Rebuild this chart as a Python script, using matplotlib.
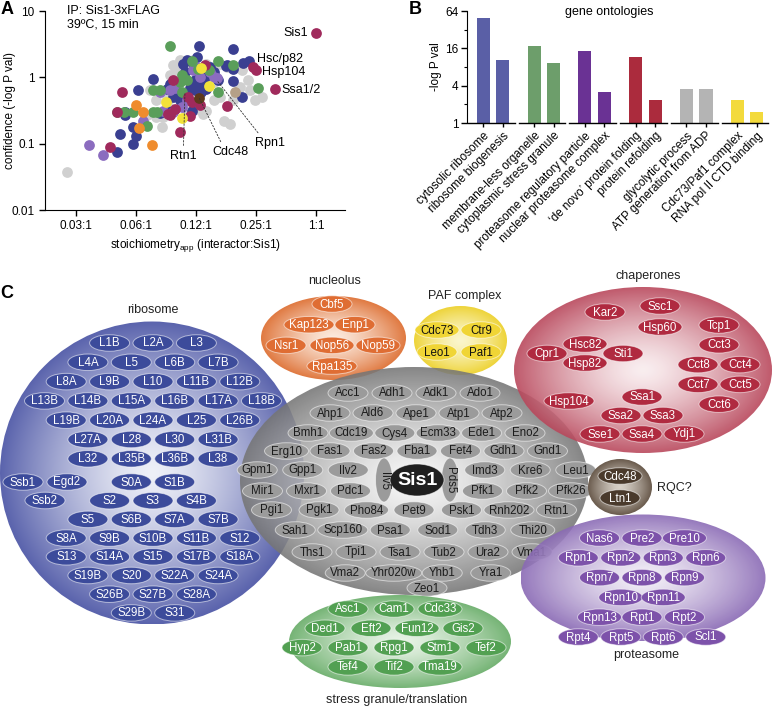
import numpy as np
import matplotlib.pyplot as plt
from matplotlib.patches import Ellipse
from matplotlib.colors import to_rgb

plt.rcParams['font.family'] = ['Liberation Sans', 'DejaVu Sans']
plt.rcParams['mathtext.fontset'] = 'custom'
plt.rcParams['mathtext.rm'] = 'Liberation Sans'
plt.rcParams['font.size'] = 8.5

# ---------------- panel A data (stoichiometry vs -log P) ----------------
sis1_ratio, sis1_conf = [0.5], [4.7]

ribo_ratio = [0.130, 0.192, 0.112, 0.126, 0.107, 0.122, 0.231, 0.216, 0.177, 0.192,
              0.147, 0.153, 0.110, 0.131, 0.140, 0.0757, 0.124, 0.136, 0.192, 0.0642,
              0.0891, 0.0961, 0.117, 0.124, 0.133, 0.141, 0.212, 0.055, 0.0606, 0.0519,
              0.0625, 0.0601, 0.0503, 0.104, 0.0907, 0.0825, 0.119, 0.112, 0.0961, 0.131,
              0.0925, 0.055, 0.162, 0.178]
ribo_conf = [2.95, 2.66, 1.85, 2.03, 1.61, 1.52, 1.77, 1.65, 1.49, 1.35,
             1.43, 1.20, 1.20, 1.20, 1.04, 0.93, 0.90, 0.88, 0.88, 0.65,
             0.67, 0.65, 0.70, 0.64, 0.60, 0.67, 0.50, 0.30, 0.181, 0.14,
             0.129, 0.099, 0.076, 0.45, 0.316, 0.29, 0.316, 0.57, 0.50, 0.80,
             0.80, 0.266, 0.90, 1.52]

chap_ratio = [0.242, 0.249, 0.311, 0.0531, 0.050, 0.0461, 0.104, 0.117, 0.139, 0.0961,
              0.0907, 0.098, 0.114, 0.119, 0.131, 0.178, 0.0925]
chap_conf = [1.43, 1.28, 0.67, 0.60, 0.30, 0.088, 0.152, 0.26, 1.52, 0.90,
             0.28, 0.335, 0.50, 0.42, 0.38, 0.37, 0.266]

sg_ratio = [0.0925, 0.119, 0.162, 0.192, 0.106, 0.112, 0.104, 0.0757, 0.0825, 0.106,
            0.162, 0.255, 0.0503, 0.0544, 0.0606, 0.0707, 0.0763, 0.0792, 0.128, 0.145]
sg_conf = [2.98, 1.75, 1.75, 1.52, 1.07, 0.90, 0.85, 0.65, 0.65, 0.60,
           0.61, 0.69, 0.305, 0.305, 0.305, 0.187, 0.305, 0.30, 1.35, 1.28]

nuc_ratio = [0.0625, 0.068, 0.065, 0.0749]
nuc_conf = [0.38, 0.305, 0.171, 0.095]

prot_ratio = [0.0365, 0.0427, 0.068, 0.0857, 0.0925, 0.098, 0.0825, 0.121, 0.126, 0.131,
              0.153, 0.147, 0.112, 0.159, 0.0961, 0.106]
prot_conf = [0.097, 0.067, 0.218, 0.316, 0.64, 0.70, 0.60, 1.28, 1.43, 1.01,
             1.01, 1.20, 0.45, 0.99, 0.305, 0.36]

paf_ratio = [0.133, 0.146, 0.0884, 0.106]
paf_conf = [1.38, 0.73, 0.43, 0.242]

rqc_ratio, rqc_conf = [0.130], [0.48]
misc_ratio, misc_conf = [0.195], [0.60]

other_ratio = [0.028, 0.084, 0.071, 0.079, 0.091, 0.096, 0.104, 0.112, 0.121, 0.141,
               0.153, 0.165, 0.178, 0.212, 0.229, 0.233, 0.247, 0.267, 0.192, 0.136,
               0.141, 0.128, 0.172, 0.185, 0.0925, 0.079, 0.0735, 0.112, 0.121, 0.0857,
               0.099, 0.153, 0.208, 0.089, 0.165]
other_conf = [0.037, 0.177, 0.266, 0.25, 0.36, 1.52, 1.81, 1.28, 1.81, 1.61,
              0.85, 1.61, 1.43, 1.28, 0.92, 0.64, 0.46, 0.50, 0.45, 0.28,
              0.316, 0.335, 0.223, 0.199, 1.07, 0.45, 0.64, 0.316, 0.36, 0.25,
              1.28, 0.45, 0.71, 0.50, 0.50]

x_ticks = [1/32, 1/16, 1/8, 1/4, 1/2]
x_ticklabels = ['0.03:1', '0.06:1', '0.12:1', '0.25:1', '1:1']

# ---------------- panel B data (GO enrichment) ----------------
go_terms = ['cytosolic ribosome', 'ribosome biogenesis',
            'membrane-less organelle', 'cytoplasmic stress granule',
            'proteasome regulatory particle', 'nuclear proteasome complex',
            '\u2018de novo\u2019 protein folding', 'protein refolding',
            'glycolytic process', 'ATP generation from ADP',
            'Cdc73/Paf1 complex', 'RNA pol II CTD binding']
go_logp = [50, 10.3, 17.4, 9.3, 14.5, 3.2, 11.7, 2.35, 3.55, 3.55, 2.35, 1.53]
go_colors = ['#5a5fa6', '#5a5fa6', '#6d9e6b', '#6d9e6b', '#6a3294', '#6a3294',
             '#ab2b3d', '#ab2b3d', '#b4b4b4', '#b4b4b4', '#f3da3c', '#f3da3c']

# ---------------- panel C data (interactor groups) ----------------
ribo_large = [['L1B', 'L2A', 'L3'], ['L4A', 'L5', 'L6B', 'L7B'],
              ['L8A', 'L9B', 'L10', 'L11B', 'L12B'],
              ['L13B', 'L14B', 'L15A', 'L16B', 'L17A', 'L18B'],
              ['L19B', 'L20A', 'L24A', 'L25', 'L26B'],
              ['L27A', 'L28', 'L30', 'L31B'], ['L32', 'L35B', 'L36B', 'L38']]
ribo_small = [['S0A', 'S1B'], ['S2', 'S3', 'S4B'], ['S5', 'S6B', 'S7A', 'S7B'],
              ['S8A', 'S9B', 'S10B', 'S11B', 'S12'],
              ['S13', 'S14A', 'S15', 'S17B', 'S18A'],
              ['S19B', 'S20', 'S22A', 'S24A'], ['S26B', 'S27B', 'S28A'], ['S29B', 'S31']]
ribo_assoc = [['Ssb1', 'Egd2'], ['Ssb2']]
nucleolus = [['Cbf5'], ['Kap123', 'Enp1'], ['Nsr1', 'Nop56', 'Nop59'], ['Rpa135']]
paf = [['Cdc73', 'Ctr9'], ['Leo1', 'Paf1']]
cct = [['Tcp1'], ['Cct3'], ['Cct8', 'Cct4'], ['Cct7', 'Cct5'], ['Cct6']]
hsp70 = [['Ssa1'], ['Ssa2', 'Ssa3'], ['Sse1', 'Ssa4', 'Ydj1']]
hsp90 = [['Hsc82'], ['Cpr1', 'Sti1'], ['Hsp82']]
mito = [['Ssc1'], ['Hsp60']]
other_rows = [['Acc1', 'Adh1', 'Adk1', 'Ado1'],
              ['Ahp1', 'Ald6', 'Ape1', 'Atp1', 'Atp2'],
              ['Bmh1', 'Cdc19', 'Cys4', 'Ecm33', 'Ede1', 'Eno2'],
              ['Erg10', 'Fas1', 'Fas2', 'Fba1', 'Fet4', 'Gdh1', 'Gnd1'],
              ['Gpm1', 'Gpp1', 'Ilv2', None, None, 'Imd3', 'Kre6', 'Leu1'],
              ['Mir1', 'Mxr1', 'Pdc1', None, None, 'Pfk1', 'Pfk2', 'Pfk26'],
              ['Pgi1', 'Pgk1', 'Pho84', 'Pet9', 'Psk1', 'Rnh202', 'Rtn1'],
              ['Sah1', 'Scp160', 'Psa1', 'Sod1', 'Tdh3', 'Thi20'],
              ['Ths1', 'Tpi1', 'Tsa1', 'Tub2', 'Ura2', 'Vma1'],
              ['Vma2', 'Yhr020w', 'Yhb1', 'Yra1'], ['Zeo1']]
stress = [['Asc1', 'Cam1', 'Cdc33'], ['Ded1', 'Eft2', 'Fun12', 'Gis2'],
          ['Hyp2', 'Pab1', 'Rpg1', 'Stm1', 'Tef2'], ['Tef4', 'Tif2', 'Tma19']]
proteasome = [['Nas6', 'Pre2', 'Pre10'], ['Rpn1', 'Rpn2', 'Rpn3', 'Rpn6'],
              ['Rpn7', 'Rpn8', 'Rpn9'], ['Rpn10', 'Rpn11'],
              ['Rpn13', 'Rpt1', 'Rpt2'], ['Rpt4', 'Rpt5', 'Rpt6', 'Scl1']]
rqc = [['Cdc48'], ['Ltn1']]

fig = plt.figure(figsize=(7.72, 7.07), dpi=100)

# Panel C lives on a pixel-space axes spanning the whole figure.
axc = fig.add_axes([0, 0, 1, 1])
axc.axis('off')


def blob(cx, cy, w, h, edge, center, z, alpha=1.0, power=1.4):
    shape = Ellipse((cx, cy), w, h, facecolor='none', edgecolor='none', zorder=z)
    axc.add_patch(shape)
    yy, xx = np.mgrid[-1:1:200j, -1:1:200j]
    t = np.clip(np.hypot(xx, yy), 0, 1) ** power
    c0, c1 = np.array(to_rgb(center)), np.array(to_rgb(edge))
    img = c0 * (1 - t[..., None]) + c1 * t[..., None]
    im = axc.imshow(img, extent=(cx - w / 2, cx + w / 2, cy + h / 2, cy - h / 2),
                    zorder=z, alpha=alpha, aspect='auto', interpolation='bilinear')
    im.set_clip_path(shape)


def chip(x, y, name, face, txt='white', z=2, w=None, h=16.5, rot=0, fs=8.3, weight='normal'):
    if w is None:
        w = max(40, 6 * len(name) + 14)
    axc.add_patch(Ellipse((x, y), w, h, facecolor=face, edgecolor=(1, 1, 1, 0.55),
                          lw=0.7, zorder=z))
    axc.text(x, y + 0.5, name, ha='center', va='center', color=txt, fontsize=fs,
             rotation=rot, zorder=z + 0.1, weight=weight)


def cluster(rows, cx, y0, dx, dy, face, txt='white', z=2):
    for i, row in enumerate(rows):
        n = len(row)
        for j, name in enumerate(row):
            if name:
                chip(cx + (j - (n - 1) / 2) * dx, y0 + i * dy, name, face, txt, z)


# ribosome
blob(152, 473, 304, 303, '#5b64ad', '#eef0f8', 1)
cluster(ribo_large, 153, 343, 43.4, 19.3, '#3c4b9b')
cluster(ribo_small, 153, 482, 43.4, 18.7, '#3c4b9b')
cluster(ribo_assoc, 45, 482, 44, 18.5, '#3c4b9b')
# nucleolus
blob(333.5, 338, 145, 84, '#e07a42', '#fce9dc', 1)
cluster(nucleolus, 332, 304, 46, 20.7, '#df6d33')
# PAF complex
blob(460.5, 340.5, 93, 69, '#eed43a', '#fbf6cc', 1)
cluster(paf, 459, 330, 44, 22, '#f0d535', txt='#111111')
# unclassified interactors (gray)
blob(414, 481, 348, 228, '#767676', '#f6f6f6', 3, alpha=0.88)
gray_layout = [(393, 414, 44), (413, 416, 43), (433, 416.5, 43.4), (451, 417, 43.5),
               (470, 416.5, 45.5), (491, 416.5, 44), (510, 414, 47.5), (530, 414, 47.5),
               (552, 422, 44), (573, 418, 48.5), (588, 427, 0)]
for row, (y, cx, dx) in zip(other_rows, gray_layout):
    cluster([row], cx, y, dx, 0, '#9b9b9b', txt='#1c1c1c', z=4)
chip(384, 480, 'Ilv5', '#9b9b9b', txt='#1c1c1c', z=4, w=17, h=44, rot=-90)
chip(450, 480, 'Pds5', '#9b9b9b', txt='#1c1c1c', z=4, w=17, h=44, rot=-90)
chip(417, 480, 'Sis1', '#1f1f1f', z=4, w=54, h=32, fs=14, weight='bold')
# chaperones
blob(643, 370, 258, 166, '#b9485c', '#f9ecee', 5, alpha=0.9)
cluster(cct, 719, 325, 42, 19.8, '#b02a40', z=6)
cluster(hsp70, 642, 397, 42, 18.5, '#b02a40', z=6)
cluster(hsp90, 585, 344, 76, 9.5, '#b02a40', z=6)
cluster(mito, 660, 306, 0, 21, '#b02a40', z=6)
chip(605, 312, 'Kar2', '#b02a40', z=6)
chip(569, 401, 'Hsp104', '#b02a40', z=6)
# proteasome
blob(643, 578, 245, 127, '#8a6ab5', '#f1ecf6', 5, alpha=0.9)
cluster(proteasome, 642, 538, 42.5, 19.8, '#7d52aa', z=6)
# stress granule / translation
blob(400, 641.5, 222, 93, '#6aae6a', '#e7f3e5', 5, alpha=0.92)
cluster(stress, 394, 609, 46, 19.3, '#52a052', z=6)
# RQC
blob(620, 487, 64, 56, '#6a5b4d', '#d8d1c8', 5)
cluster(rqc, 620, 476, 0, 22, '#4a3a2c', z=6)

group_labels = [(153, 310, 'ribosome'), (335, 281, 'nucleolus'), (465, 296, 'PAF complex'),
                (648, 276, 'chaperones'), (646, 655, 'proteasome'),
                (397, 700, 'stress granule/translation')]
for x, y, s in group_labels:
    axc.text(x, y, s, ha='center', va='center', fontsize=9, color='#222222')
axc.text(657, 488, 'RQC?', ha='left', va='center', fontsize=9, color='#222222')

for x, y, s in [(7, 10, 'A'), (415, 10, 'B'), (7, 293, 'C')]:
    axc.text(x, y, s, ha='center', va='center', fontsize=13, weight='bold')

axc.set_xlim(0, 772)
axc.set_ylim(707, 0)

# ---------------- panel A ----------------
axA = fig.add_axes([45 / 772, 1 - 210 / 707, 300 / 772, 199 / 707])
axA.patch.set_alpha(0)
axA.set_xscale('log', base=2)
axA.set_yscale('log')
ms = 60
axA.scatter(other_ratio, other_conf, s=ms, c='#d0d0d0', lw=0, zorder=2)
axA.scatter(ribo_ratio, ribo_conf, s=ms, c='#3a3f91', lw=0, zorder=3)
axA.scatter(prot_ratio, prot_conf, s=ms, c='#8b6cbf', lw=0, zorder=3)
axA.scatter(sg_ratio, sg_conf, s=ms, c='#5a9e5a', lw=0, zorder=3)
axA.scatter(chap_ratio, chap_conf, s=ms, c='#a02a5c', lw=0, zorder=3)
axA.scatter(nuc_ratio, nuc_conf, s=ms, c='#ef8c2e', lw=0, zorder=3)
axA.scatter(paf_ratio, paf_conf, s=ms, c='#f2e23a', lw=0, zorder=3)
axA.scatter(rqc_ratio, rqc_conf, s=ms, c='#5e3a1c', lw=0, zorder=3)
axA.scatter(misc_ratio, misc_conf, s=ms, c='#b5a088', lw=0, zorder=3)
axA.scatter(sis1_ratio, sis1_conf, s=ms, c='#a02a5c', lw=0, zorder=3)

axA.annotate('Sis1', (sis1_ratio[0], sis1_conf[0]), xytext=(-6, 0), textcoords='offset points',
             ha='right', va='center', fontsize=9)
axA.annotate('Hsc/p82', (chap_ratio[0], chap_conf[0]), xytext=(3, 6), textcoords='offset points',
             ha='left', va='center', fontsize=9)
axA.annotate('Hsp104', (chap_ratio[1], chap_conf[1]), xytext=(4.5, -1.5), textcoords='offset points',
             ha='left', va='center', fontsize=9)
axA.annotate('Ssa1/2', (chap_ratio[2], chap_conf[2]), xytext=(5, -0.8), textcoords='offset points',
             ha='left', va='center', fontsize=9)
dash = dict(arrowstyle='-', linestyle=(0, (2, 2)), lw=0.6, color='#333333', shrinkA=1, shrinkB=0)
axA.annotate('Rtn1', (0.110, 0.59), xytext=(0.108, 0.066), ha='center', va='center', fontsize=9,
             arrowprops=dict(dash, relpos=(0.5, 1)))
axA.annotate('Cdc48', (0.130, 0.48), xytext=(0.185, 0.0756), ha='center', va='center', fontsize=9,
             arrowprops=dict(dash, relpos=(0.3, 1)))
axA.annotate('Rpn1', (0.159, 0.90), xytext=(0.294, 0.1035), ha='center', va='center', fontsize=9,
             arrowprops=dict(dash, relpos=(0.2, 1)))

axA.text(0.073, 1.0, 'IP: Sis1-3xFLAG', transform=axA.transAxes, ha='left', va='center', fontsize=9)
axA.text(0.073, 0.93, '39ºC, 15 min', transform=axA.transAxes, ha='left', va='center', fontsize=9)

axA.set_xlim(2 ** -5.517, 2 ** -0.517)
axA.set_ylim(0.01, 10)
axA.set_xticks(x_ticks)
axA.set_xticklabels(x_ticklabels)
axA.set_yticks([0.01, 0.1, 1, 10])
axA.set_yticklabels(['0.01', '0.1', '1', '10'])
axA.minorticks_off()
axA.spines[['top', 'right']].set_visible(False)
axA.tick_params(length=4, width=1, labelsize=8.5)
axA.set_xlabel('stoichiometry$_{\\mathrm{app}}$ (interactor:Sis1)', fontsize=8.5, labelpad=3)
axA.set_ylabel('confidence (-log P val)', fontsize=8.5)
axA.yaxis.set_label_coords(-29 / 300, 0.5)

# ---------------- panel B ----------------
axB = fig.add_axes([467 / 772, 1 - 123 / 707, 303 / 772, 112 / 707])
axB.patch.set_alpha(0)
axB.set_yscale('log', base=2)
pos = np.array([g * 2.6 + i for g in range(6) for i in range(2)])
axB.bar(pos, np.array(go_logp) - 1, bottom=1, width=0.67, color=go_colors, lw=0)
for g in range(6):
    axB.plot([g * 2.6 - 0.8, g * 2.6 + 1.6], [1, 1], color='black', lw=1, clip_on=False)
axB.set_xlim(-0.84, 14.68)
axB.set_ylim(1, 64)
axB.set_yticks([1, 4, 16, 64])
axB.set_yticklabels(['1', '4', '16', '64'])
axB.set_yticks([2, 8, 32], minor=True)
axB.yaxis.set_minor_formatter(plt.NullFormatter())
axB.set_xticks(pos)
axB.set_xticklabels(go_terms, rotation=45, ha='right', rotation_mode='anchor', fontsize=8.5)
axB.spines[['top', 'right', 'bottom']].set_visible(False)
axB.tick_params(axis='y', which='major', length=4, width=1, labelsize=8.5, pad=2)
axB.tick_params(axis='y', which='minor', length=2.5, width=0.8)
axB.tick_params(axis='x', length=3, width=1, pad=2)
axB.set_ylabel('-log P val', fontsize=8.5)
axB.yaxis.set_label_coords(-25 / 303, 0.5)
axB.text(0.469, 0.99, 'gene ontologies', transform=axB.transAxes, ha='center', va='center', fontsize=9)

fig.savefig('out.png', dpi=100)
